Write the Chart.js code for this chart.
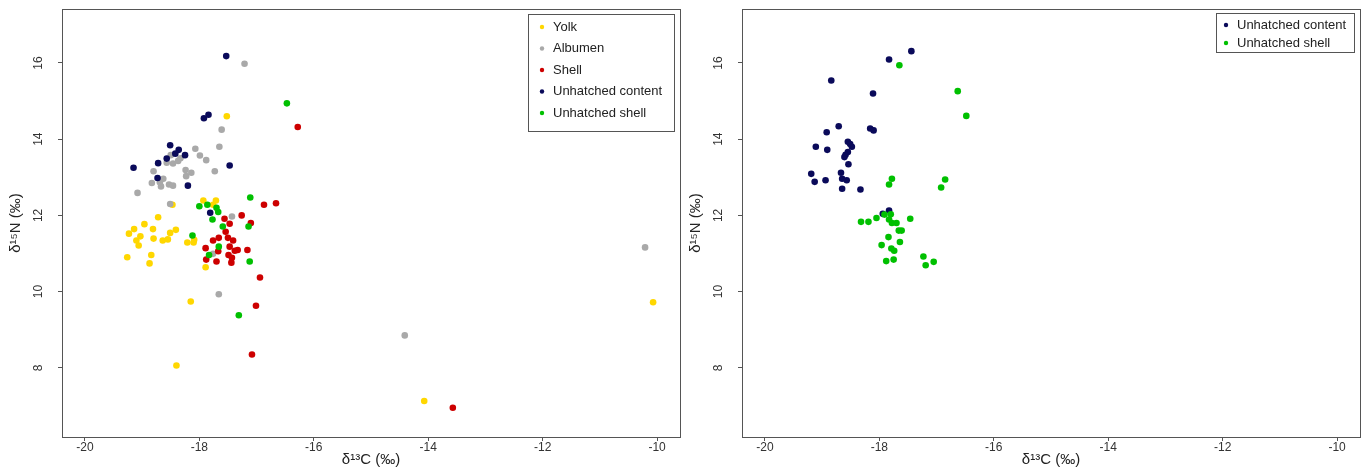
<!DOCTYPE html>
<html>
<head>
<meta charset="utf-8">
<script src="https://cdn.jsdelivr.net/npm/chart.js@4.4.1/dist/chart.umd.min.js"></script>
<style>
  html, body { margin:0; padding:0; background:#fff; }
  #wrap { position:relative; width:1366px; height:469px; }
  #wrap canvas { position:absolute; left:0; top:0; }
</style>
</head>
<body>
<div id="wrap">
  <canvas id="leftChart" width="1366" height="469"></canvas>
  <canvas id="rightChart" width="1366" height="469"></canvas>
</div>
<script>
// =========================
// DATA (d13C, d15N)
// =========================
const xTicks = [-20, -18, -16, -14, -12, -10]
const yTicks = [8, 10, 12, 14, 16]

const yolkC = [-17.52, -17.93, -17.71, -17.76, -18.72, -18.96, -19.14, -18.81, -18.41, -19.23, -18.51, -19.03, -18.80, -18.64, -18.55, -19.10, -19.06, -18.21, -18.09, -18.10, -18.84, -19.26, -18.87, -17.89, -18.15, -18.40, -14.07, -10.07, -18.47]
const yolkN = [14.60, 12.39, 12.39, 12.28, 11.95, 11.77, 11.64, 11.64, 11.62, 11.52, 11.54, 11.45, 11.39, 11.34, 11.37, 11.34, 11.21, 11.29, 11.36, 11.29, 10.96, 10.90, 10.74, 10.64, 9.74, 8.06, 7.13, 9.72, 12.28]

const albumenC = [-17.21, -17.61, -18.07, -17.65, -17.99, -17.88, -18.50, -18.57, -18.46, -18.37, -18.33, -18.80, -18.24, -18.14, -18.23, -17.73, -18.63, -18.69, -18.83, -18.67, -18.53, -18.46, -19.08, -18.51, -17.43, -17.76, -17.66, -14.41, -10.21]
const albumenN = [15.98, 14.25, 13.75, 13.80, 13.57, 13.45, 13.58, 13.38, 13.36, 13.43, 13.50, 13.16, 13.19, 13.12, 13.03, 13.16, 12.96, 12.87, 12.85, 12.76, 12.81, 12.78, 12.59, 12.30, 11.97, 10.99, 9.93, 8.85, 11.16]

const shellC = [-16.28, -16.87, -16.66, -17.26, -17.10, -17.56, -17.47, -17.54, -17.50, -17.76, -17.66, -17.41, -17.47, -17.89, -17.67, -17.38, -17.33, -17.16, -17.49, -17.43, -17.88, -17.70, -17.44, -16.94, -17.01, -17.08, -13.57]
const shellN = [14.32, 12.28, 12.32, 12.00, 11.80, 11.91, 11.78, 11.57, 11.41, 11.34, 11.41, 11.34, 11.18, 11.14, 11.06, 11.07, 11.09, 11.09, 10.96, 10.89, 10.84, 10.79, 10.76, 10.37, 9.63, 8.35, 6.95]

const contentC = [-17.53, -17.92, -17.84, -18.51, -18.36, -18.42, -18.25, -18.57, -18.72, -19.15, -17.47, -18.73, -18.20, -17.81]
const contentN = [16.18, 14.55, 14.64, 13.84, 13.72, 13.62, 13.58, 13.49, 13.37, 13.25, 13.31, 12.98, 12.78, 12.07]

const uShellC = [-16.47, -17.11, -18.00, -17.86, -17.70, -17.67, -17.77, -17.59, -17.14, -18.12, -17.66, -17.83, -17.12, -17.31]
const uShellN = [14.94, 12.47, 12.24, 12.28, 12.20, 12.09, 11.89, 11.71, 11.71, 11.47, 11.18, 10.96, 10.79, 9.38]

// right panel
const content2C = [-17.44, -17.83, -18.84, -18.11, -18.71, -18.16, -18.10, -18.92, -18.55, -18.51, -18.48, -19.11, -18.91, -18.55, -18.59, -18.61, -18.54, -19.19, -18.67, -19.13, -18.94, -18.65, -18.57, -18.65, -18.33, -17.94, -17.83]
const content2N = [16.31, 16.09, 15.54, 15.20, 14.34, 14.28, 14.23, 14.18, 13.93, 13.87, 13.80, 13.80, 13.72, 13.66, 13.59, 13.53, 13.34, 13.09, 13.12, 12.88, 12.92, 12.96, 12.92, 12.70, 12.68, 12.04, 12.13]

const uShell2C = [-17.65, -16.63, -16.48, -17.78, -17.83, -16.85, -16.92, -18.32, -18.19, -18.05, -17.91, -17.80, -17.83, -17.78, -17.70, -17.46, -17.66, -17.61, -17.84, -17.64, -17.96, -17.79, -17.74, -17.88, -17.75, -17.23, -17.05, -17.19]
const uShell2N = [15.94, 15.26, 14.61, 12.96, 12.81, 12.94, 12.73, 11.83, 11.83, 11.93, 12.02, 12.03, 11.89, 11.80, 11.80, 11.91, 11.60, 11.60, 11.43, 11.30, 11.22, 11.13, 11.07, 10.80, 10.84, 10.92, 10.78, 10.69]

const colors = {
    yolk: "#ffd700",
    albumen: "#a9a9a9",
    shell: "#cd0000",
    content: "#0a0a5a",
    uShell: "#00c000"
}

const fontFamily = '"Liberation Sans", Arial, sans-serif'

function pts(cs, ns) {
    return cs.map((c, i) => ({ x: c, y: ns[i] }))
}

function series(label, cs, ns, color) {
    return {
        label: label,
        data: pts(cs, ns),
        backgroundColor: color,
        borderWidth: 0,
        pointRadius: 3.3,
        pointHoverRadius: 3.3
    }
}

// box round plot area (R style)
const boxPlugin = {
    id: "boxPlugin",
    afterDraw(chart) {
        const { ctx, chartArea } = chart
        ctx.save()
        ctx.strokeStyle = "#555"
        ctx.lineWidth = 1
        ctx.strokeRect(Math.round(chartArea.left) + 0.5, Math.round(chartArea.top) + 0.5,
            Math.round(chartArea.right - chartArea.left), Math.round(chartArea.bottom - chartArea.top))
        ctx.restore()
    }
}

// legend with a box, top right inside plot
const boxLegend = {
    id: "boxLegend",
    afterDraw(chart, args, o) {
        const { ctx, chartArea } = chart
        const sets = chart.data.datasets
        const x0 = Math.round(chartArea.right - o.right - o.width)
        const y0 = Math.round(chartArea.top + o.top)
        ctx.save()
        ctx.fillStyle = "#fff"
        ctx.fillRect(x0, y0, o.width, o.height)
        ctx.strokeStyle = "#555"
        ctx.lineWidth = 1
        ctx.strokeRect(x0 + 0.5, y0 + 0.5, o.width, o.height)
        ctx.font = "13px " + fontFamily
        ctx.textBaseline = "middle"
        sets.forEach((d, i) => {
            const cy = y0 + o.first + i * o.row
            ctx.fillStyle = d.backgroundColor
            ctx.beginPath()
            ctx.arc(x0 + o.sym, cy, 2.2, 0, Math.PI * 2)
            ctx.fill()
            ctx.fillStyle = "#222"
            ctx.fillText(d.label, x0 + o.text, cy)
        })
        ctx.restore()
    }
}

function makeChart(id, datasets, padLeft, padRight, legendOpts) {
    // later series on top, like R
    datasets.forEach((d, i) => { d.order = datasets.length - i })
    return new Chart(document.getElementById(id), {
        type: "scatter",
        data: { datasets: datasets },
        plugins: [boxPlugin, boxLegend],
        options: {
            responsive: false,
            animation: false,
            events: [],
            layout: { padding: { left: padLeft, right: padRight, top: 9, bottom: 0 } },
            plugins: {
                legend: { display: false },
                tooltip: { enabled: false },
                boxLegend: legendOpts
            },
            scales: {
                x: {
                    type: "linear",
                    min: -20.4,
                    max: -9.6,
                    afterBuildTicks: s => { s.ticks = xTicks.map(v => ({ value: v })) },
                    afterFit: s => { s.height = 32; s.paddingLeft = 0; s.paddingRight = 0 },
                    ticks: { color: "#333", padding: -1, font: { family: fontFamily, size: 12 } },
                    grid: { drawOnChartArea: false, drawTicks: true, tickLength: 4, color: "#555" },
                    border: { display: false },
                    title: {
                        display: true,
                        text: "δ¹³C (‰)",
                        color: "#222",
                        font: { family: fontFamily, size: 15 },
                        padding: { top: 0, bottom: 0 }
                    }
                },
                y: {
                    type: "linear",
                    min: 6.184,
                    max: 17.416,
                    afterBuildTicks: s => { s.ticks = yTicks.map(v => ({ value: v })) },
                    afterFit: s => { s.width = 62; s.paddingTop = 0; s.paddingBottom = 0 },
                    ticks: {
                        color: "#333",
                        minRotation: 90,
                        maxRotation: 90,
                        crossAlign: "center",
                        padding: 13,
                        font: { family: fontFamily, size: 12 }
                    },
                    grid: { drawOnChartArea: false, drawTicks: true, tickLength: 4, color: "#555" },
                    border: { display: false },
                    title: {
                        display: true,
                        text: "δ¹⁵N (‰)",
                        color: "#222",
                        font: { family: fontFamily, size: 15 },
                        padding: { top: 7, bottom: 0 }
                    }
                }
            }
        }
    })
}

// =========================
// LEFT PANEL
// =========================
makeChart("leftChart", [
    series("Yolk", yolkC, yolkN, colors.yolk),
    series("Albumen", albumenC, albumenN, colors.albumen),
    series("Shell", shellC, shellN, colors.shell),
    series("Unhatched content", contentC, contentN, colors.content),
    series("Unhatched shell", uShellC, uShellN, colors.uShell)
], 0, 686, { right: 6, top: 5, width: 146, height: 117, first: 13, row: 21.5, sym: 14, text: 25 })

// =========================
// RIGHT PANEL
// =========================
makeChart("rightChart", [
    series("Unhatched content", content2C, content2N, colors.content),
    series("Unhatched shell", uShell2C, uShell2N, colors.uShell)
], 680, 6, { right: 6, top: 4, width: 138, height: 39, first: 12, row: 18, sym: 10, text: 21 })
</script>
</body>
</html>
